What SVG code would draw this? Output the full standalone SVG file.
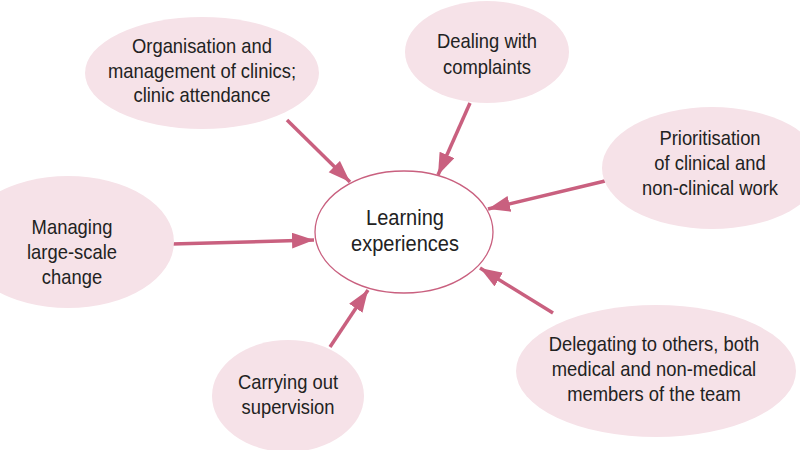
<svg xmlns="http://www.w3.org/2000/svg" width="800" height="450" viewBox="0 0 800 450">
<style>
.node{fill:#f6e2e8;}
.t{font-family:"Liberation Sans",Arial,sans-serif;font-size:20px;fill:#222;text-anchor:middle;}
.c{font-family:"Liberation Sans",Arial,sans-serif;font-size:22px;fill:#222;text-anchor:middle;}
.conn{stroke:#c9607f;stroke-width:3.5;fill:none;marker-end:url(#ah);}
</style>
<defs>
<marker id="ah" markerUnits="userSpaceOnUse" markerWidth="24" markerHeight="18" refX="22" refY="8" orient="auto">
<path d="M0,0 L22,8 L0,16 Z" fill="#c9607f"/>
</marker>
</defs>
<rect width="800" height="450" fill="#fff"/>
<g id="connectors">
<line class="conn" x1="287" y1="120" x2="350" y2="182"/>
<line class="conn" x1="470" y1="103" x2="438" y2="175"/>
<line class="conn" x1="605" y1="181" x2="488" y2="209"/>
<line class="conn" x1="172" y1="244" x2="314" y2="240"/>
<line class="conn" x1="330" y1="347" x2="368" y2="290"/>
<line class="conn" x1="553" y1="313" x2="480" y2="268"/>
</g>
<g id="center">
<ellipse cx="404" cy="232" rx="89" ry="61" fill="#fff" stroke="#c9607f" stroke-width="1.3"/>
<text class="c" transform="translate(405,225) scale(0.91,1)">Learning</text>
<text class="c" transform="translate(405,251) scale(0.91,1)">experiences</text>
</g>
<g id="organisation">
<ellipse class="node" cx="202" cy="73" rx="117" ry="56"/>
<text class="t" transform="translate(202,53) scale(0.92,1)">Organisation and</text>
<text class="t" transform="translate(202,78) scale(0.92,1)">management of clinics;</text>
<text class="t" transform="translate(202,102) scale(0.92,1)">clinic attendance</text>
</g>
<g id="complaints">
<ellipse class="node" cx="487" cy="52" rx="82" ry="51"/>
<text class="t" transform="translate(487,48) scale(0.92,1)">Dealing with</text>
<text class="t" transform="translate(487,74) scale(0.92,1)">complaints</text>
</g>
<g id="prioritisation">
<ellipse class="node" cx="712" cy="168" rx="110" ry="61"/>
<text class="t" transform="translate(710,145) scale(0.92,1)">Prioritisation</text>
<text class="t" transform="translate(710,170) scale(0.92,1)">of clinical and</text>
<text class="t" transform="translate(710,195) scale(0.92,1)">non-clinical work</text>
</g>
<g id="managing">
<ellipse class="node" cx="68" cy="242" rx="106" ry="66"/>
<text class="t" transform="translate(72,234) scale(0.92,1)">Managing</text>
<text class="t" transform="translate(72,259) scale(0.92,1)">large-scale</text>
<text class="t" transform="translate(72,284) scale(0.92,1)">change</text>
</g>
<g id="supervision">
<ellipse class="node" cx="288" cy="396" rx="76" ry="56"/>
<text class="t" transform="translate(288,389) scale(0.92,1)">Carrying out</text>
<text class="t" transform="translate(288,414) scale(0.92,1)">supervision</text>
</g>
<g id="delegating">
<ellipse class="node" cx="656" cy="371" rx="140" ry="66"/>
<text class="t" transform="translate(654,351) scale(0.92,1)">Delegating to others, both</text>
<text class="t" transform="translate(654,376) scale(0.92,1)">medical and non-medical</text>
<text class="t" transform="translate(654,401) scale(0.92,1)">members of the team</text>
</g>
</svg>
